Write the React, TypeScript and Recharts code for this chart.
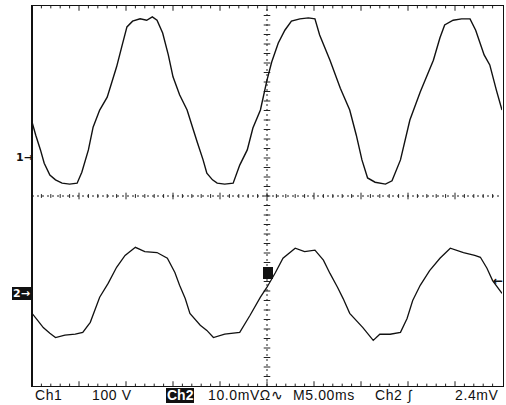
import React from "react";
import { LineChart, Line, XAxis, YAxis, ReferenceLine } from "recharts";

// Channel 1 (100 V/div), time in ms from left edge of screen
const ch1TimeMs = [0, 0.4, 0.9, 1.3, 1.9, 2.5, 3.2, 4.0, 4.8, 5.3, 6.0, 6.5, 7.2, 8.0, 8.5, 9.0, 9.6, 10.1, 10.7, 11.5, 12.2, 12.8, 13.3, 13.9, 14.5, 15.0, 15.7, 16.5, 17.1, 17.6, 18.2, 18.6, 19.2, 19.7, 20.5, 21.4, 22.1, 22.9, 23.5, 24.3, 25.0, 25.5, 26.2, 26.9, 27.6, 28.5, 29.4, 30.1, 30.6, 31.7, 32.8, 33.8, 34.5, 35.1, 35.7, 36.5, 37.6, 38.3, 39.2, 40.2, 41.3, 42.7, 43.4, 43.9, 44.8, 45.7, 46.6, 47.2, 48.1, 48.7, 49.4, 50];
const ch1Volts = [76, 48, 17, -11, -36, -46, -53, -55, -53, -30, 17, 65, 101, 128, 160, 192, 238, 276, 288, 293, 290, 297, 290, 263, 217, 171, 133, 101, 63, 32, -4, -32, -46, -53, -55, -53, -15, 17, 63, 101, 164, 202, 242, 269, 288, 293, 295, 293, 259, 206, 147, 101, 48, -4, -42, -51, -55, -48, -4, 80, 139, 206, 253, 280, 290, 293, 293, 269, 217, 196, 143, 101];

// Channel 2 (10 mV/div)
const ch2TimeMs = [0, 0.6, 1.2, 1.9, 2.5, 3.5, 4.6, 5.4, 6.2, 7.2, 8.1, 9.0, 9.9, 11.0, 12.0, 13.3, 14.4, 15.2, 15.7, 16.3, 16.8, 17.9, 18.6, 19.3, 20.5, 22.1, 23.2, 24.3, 25.0, 25.9, 26.7, 28.0, 29.0, 30.1, 31.0, 31.7, 32.5, 33.1, 33.8, 35.2, 36.3, 37.0, 38.1, 39.2, 39.9, 40.5, 41.3, 42.3, 43.4, 44.5, 45.9, 47.1, 47.7, 48.4, 49.0, 50];
const ch2MilliVolts = [-4.2, -5.7, -7.2, -8.4, -9.3, -8.8, -8.6, -8.2, -6.1, -0.8, 2.1, 5.5, 8.0, 9.7, 8.8, 8.6, 7.4, 4.4, 1.7, -1.1, -4.2, -6.7, -7.8, -9.3, -8.6, -8.2, -4.6, -0.8, 1.3, 4.4, 7.4, 9.5, 8.8, 9.1, 7.0, 4.2, 1.3, -1.1, -4.2, -7.2, -9.9, -8.6, -8.6, -8.2, -5.3, -1.5, 1.7, 4.8, 7.4, 9.5, 8.6, 8.0, 7.6, 5.3, 2.7, 0];

// Screen settings
const timeDomainMs = [0, 50];
const ch1DomainV = [-480, 320];
const ch2DomainMv = [-19.5, 60.5];
const statusLabels = ["Ch1", "100 V", "Ch2", "10.0mVΩ∿", "M5.00ms", "Ch2", "∫", "2.4mV"];

const ch1Data = ch1TimeMs.map((t, i) => ({ t, v: ch1Volts[i] }));
const ch2Data = ch2TimeMs.map((t, i) => ({ t, v: ch2MilliVolts[i] }));

const W = 506;
const H = 405;
const M = { top: 6, right: 4, bottom: 19, left: 32 };

// graticule helpers (screen divisions)
const divMs = 5;
const divV = 100;
const centerMs = 25;
const centerV = -80;
const minorX: number[] = [];
for (let i = 1; i < 50; i++) minorX.push((i * divMs) / 5);
const minorY: number[] = [];
for (let i = 1; i < 40; i++) minorY.push(ch1DomainV[0] + (i * divV) / 5);

export default function App() {
  const txt: React.CSSProperties = {
    position: "absolute",
    top: 388,
    fontFamily: "'Liberation Sans', Arial, sans-serif",
    fontSize: 14,
    lineHeight: "15px",
    letterSpacing: 0.6,
    color: "#111",
    whiteSpace: "nowrap",
  };
  const mark: React.CSSProperties = {
    position: "absolute",
    fontFamily: "'DejaVu Sans', sans-serif",
    fontSize: 11,
    fontWeight: "bold",
    lineHeight: "13px",
    color: "#111",
    whiteSpace: "nowrap",
  };
  return (
    <div style={{ position: "absolute", left: 0, top: 0, width: W, height: H, background: "#fff" }}>
      <LineChart width={W} height={H} margin={M}>
        <XAxis xAxisId="t" type="number" dataKey="t" domain={timeDomainMs} hide allowDataOverflow />
        <YAxis yAxisId="ch1" type="number" domain={ch1DomainV} hide allowDataOverflow />
        <YAxis yAxisId="ch2" type="number" domain={ch2DomainMv} hide allowDataOverflow />
        {/* center cross */}
        <ReferenceLine xAxisId="t" yAxisId="ch1" x={centerMs} stroke="#222" strokeDasharray="2 3" strokeWidth={1} />
        <ReferenceLine xAxisId="t" yAxisId="ch1" y={centerV} stroke="#222" strokeDasharray="2 3" strokeWidth={1} />
        {minorX.map((m) => (
          <ReferenceLine
            key={"hx" + m}
            xAxisId="t"
            yAxisId="ch1"
            segment={[{ x: m, y: centerV - (m % 5 === 0 ? 7 : 4) }, { x: m, y: centerV + (m % 5 === 0 ? 7 : 4) }]}
            stroke="#222"
            strokeWidth={1}
          />
        ))}
        {minorY.map((m) => (
          <ReferenceLine
            key={"vy" + m}
            xAxisId="t"
            yAxisId="ch1"
            segment={[{ x: centerMs - 0.35, y: m }, { x: centerMs + 0.35, y: m }]}
            stroke="#222"
            strokeWidth={1}
          />
        ))}
        {minorX.map((m) => (
          <ReferenceLine
            key={"tx" + m}
            xAxisId="t"
            yAxisId="ch1"
            segment={[{ x: m, y: ch1DomainV[1] }, { x: m, y: ch1DomainV[1] - (m % 5 === 0 ? 10 : 5) }]}
            stroke="#222"
            strokeWidth={1}
          />
        ))}
        {minorX.map((m) => (
          <ReferenceLine
            key={"bx" + m}
            xAxisId="t"
            yAxisId="ch1"
            segment={[{ x: m, y: ch1DomainV[0] }, { x: m, y: ch1DomainV[0] + (m % 5 === 0 ? 10 : 5) }]}
            stroke="#222"
            strokeWidth={1}
          />
        ))}
        <Line
          xAxisId="t"
          yAxisId="ch1"
          data={ch1Data}
          dataKey="v"
          type="linear"
          stroke="#111"
          strokeWidth={1.4}
          dot={false}
          isAnimationActive={false}
        />
        <Line
          xAxisId="t"
          yAxisId="ch2"
          data={ch2Data}
          dataKey="v"
          type="linear"
          stroke="#111"
          strokeWidth={1.3}
          dot={false}
          isAnimationActive={false}
        />
      </LineChart>
      {/* graticule border */}
      <div
        style={{
          position: "absolute",
          left: M.left - 1,
          top: M.top - 1,
          width: W - M.left - M.right,
          height: H - M.top - M.bottom,
          border: "1.5px solid #111",
          borderLeftWidth: 2,
          pointerEvents: "none",
        }}
      />
      {/* channel ground markers */}
      <div style={{ ...mark, top: 151, left: 16 }}>1→</div>
      <div style={{ ...mark, top: 287, left: 12, background: "#111", color: "#fff", padding: "0 1px" }}>2→</div>
      {/* trigger markers */}
      <div style={{ position: "absolute", left: 263, top: 267, width: 10, height: 12, background: "#111" }} />
      <div style={{ ...mark, top: 275, left: 493, fontSize: 12 }}>←</div>
      {/* status line */}
      <div style={{ ...txt, left: 35 }}>{statusLabels[0]}</div>
      <div style={{ ...txt, left: 92 }}>{statusLabels[1]}</div>
      <div style={{ ...txt, left: 166, background: "#111", color: "#fff", padding: "0 1px", fontWeight: "bold", letterSpacing: 0 }}>
        {statusLabels[2]}
      </div>
      <div style={{ ...txt, left: 208 }}>{statusLabels[3]}</div>
      <div style={{ ...txt, left: 293 }}>{statusLabels[4]}</div>
      <div style={{ ...txt, left: 375 }}>{statusLabels[5]}</div>
      <div style={{ ...txt, left: 408 }}>{statusLabels[6]}</div>
      <div style={{ ...txt, left: 455 }}>{statusLabels[7]}</div>
    </div>
  );
}
